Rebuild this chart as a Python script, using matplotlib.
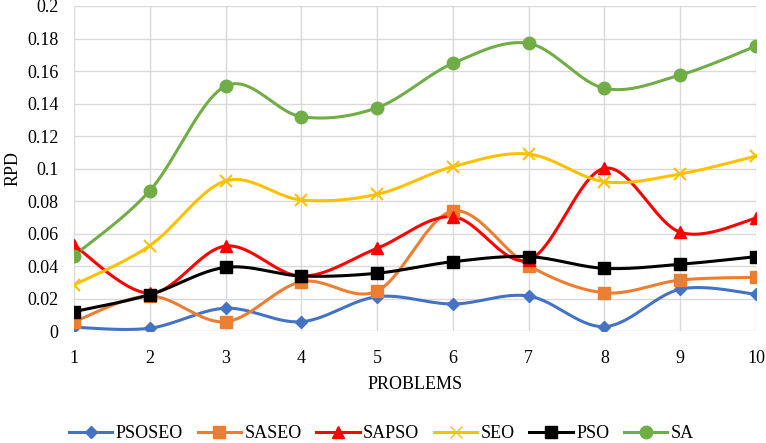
import numpy as np
import matplotlib
matplotlib.use("Agg")
import matplotlib.pyplot as plt

plt.rcParams['font.family'] = ['Liberation Serif', 'DejaVu Serif']

problems = [1, 2, 3, 4, 5, 6, 7, 8, 9, 10]
psoseo = [0.0026, 0.0020, 0.0143, 0.0060, 0.0214, 0.0169, 0.0218, 0.0030, 0.0260, 0.0229]
saseo = [0.0060, 0.0218, 0.0060, 0.0306, 0.0249, 0.0740, 0.0404, 0.0238, 0.0316, 0.0333]
sapso = [0.0530, 0.0235, 0.0525, 0.0340, 0.0511, 0.0705, 0.0440, 0.1003, 0.0610, 0.0696]
seo = [0.0286, 0.0527, 0.0925, 0.0808, 0.0843, 0.1013, 0.1090, 0.0920, 0.0968, 0.1078]
pso = [0.0122, 0.0226, 0.0394, 0.0341, 0.0358, 0.0429, 0.0460, 0.0388, 0.0413, 0.0460]
sa = [0.0466, 0.0865, 0.1508, 0.1320, 0.1375, 0.1648, 0.1770, 0.1494, 0.1576, 0.1754]

names = ['PSOSEO', 'SASEO', 'SAPSO', 'SEO', 'PSO', 'SA']
colors = ['#4472C4', '#ED7D31', '#FF0000', '#FFC000', '#000000', '#70AD47']
markers = ['D', 's', '^', 'x', 's', 'o']
msizes = [6, 8, 8, 8, 8, 9]


def smooth(x, y, n=30):
    # Excel-style smoothed line (Catmull-Rom as cubic Bezier)
    p = np.column_stack([x, y]).astype(float)
    p = np.vstack([p[0], p, p[-1]])
    out = []
    t = np.linspace(0, 1, n)[:, None]
    for i in range(1, len(p) - 2):
        a, b = p[i], p[i + 1]
        c1 = a + (p[i + 1] - p[i - 1]) / 6
        c2 = b - (p[i + 2] - p[i]) / 6
        seg = (1 - t) ** 3 * a + 3 * (1 - t) ** 2 * t * c1 + 3 * (1 - t) * t ** 2 * c2 + t ** 3 * b
        out.append(seg)
    out = np.vstack(out)
    return out[:, 0], out[:, 1]


fig = plt.figure(figsize=(7.66, 4.43), dpi=100)
ax = fig.add_axes([0.0966, 0.2517, 0.8904, 0.7348])

series = [psoseo, saseo, sapso, seo, pso, sa]
for vals, name, c, m, ms in zip(series, names, colors, markers, msizes):
    sx, sy = smooth(problems, vals)
    ax.plot(sx, sy, color=c, lw=2.2, zorder=3)
    ax.plot(problems, vals, linestyle='none', marker=m, color=c, markersize=ms,
            markeredgewidth=1.5 if m == 'x' else 1, zorder=4)
    ax.plot([], [], color=c, lw=2.2, marker=m, markersize=ms, label=name)

ax.set_xlim(1, 10)
ax.set_ylim(0, 0.2)
ax.set_xticks(problems)
ax.set_yticks(np.arange(0, 0.201, 0.02))
ax.set_yticklabels(['0', '0.02', '0.04', '0.06', '0.08', '0.1', '0.12', '0.14', '0.16', '0.18', '0.2'])
ax.grid(True, color='#D9D9D9', lw=1)
ax.set_axisbelow(True)
for s in ax.spines.values():
    s.set_visible(False)
ax.tick_params(length=0, labelsize=13)
ax.tick_params(axis='x', pad=13)
ax.tick_params(axis='y', pad=11)
ax.set_ylabel('RPD', fontsize=13, labelpad=4)
ax.set_xlabel('PROBLEMS', fontsize=13, labelpad=7)

fig.legend(loc='center', bbox_to_anchor=(0.498, 9 / 443), ncol=6, frameon=False,
           fontsize=13, handlelength=2.4, columnspacing=0.8, handletextpad=0.2)

fig.savefig('out.png', dpi=100)
